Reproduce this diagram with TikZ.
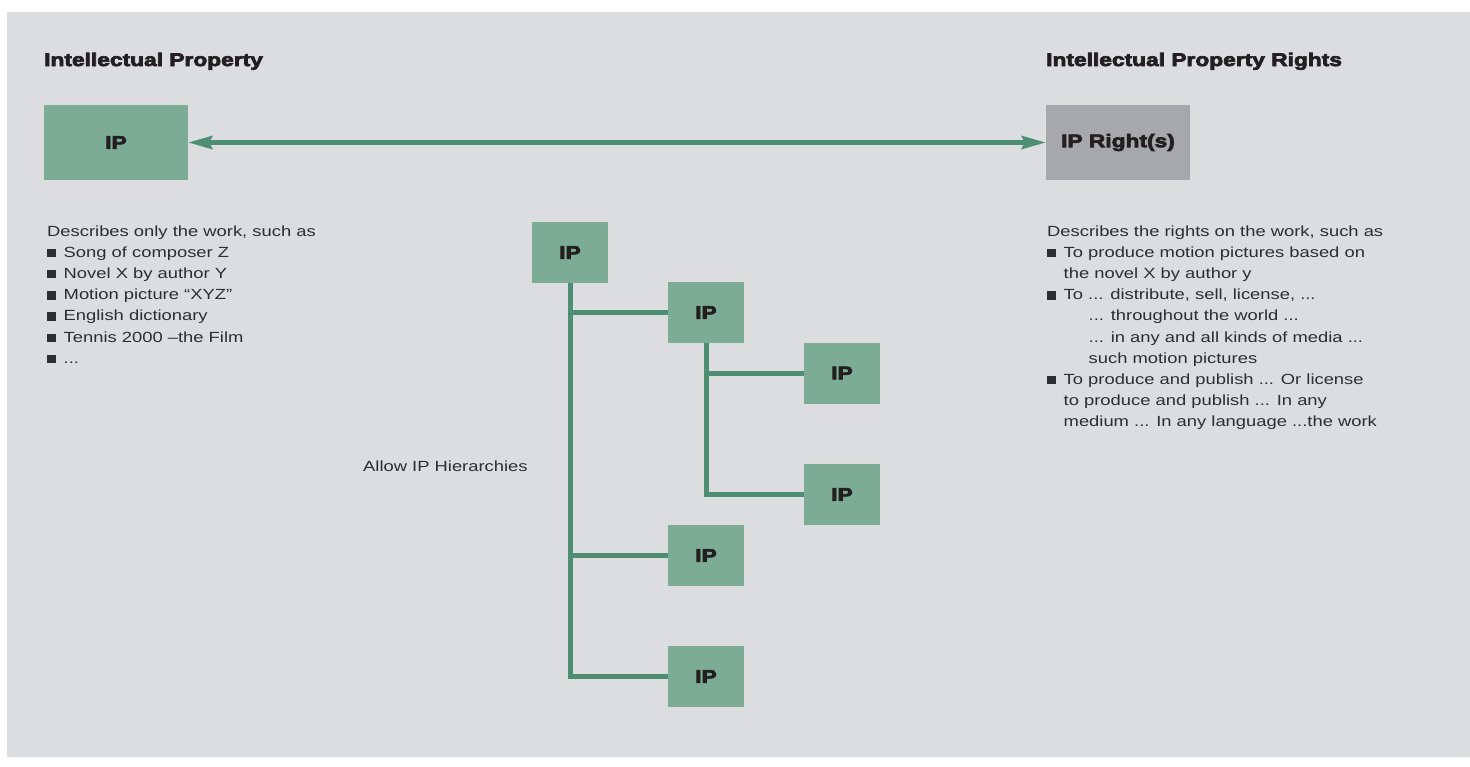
\documentclass[tikz,border=0pt]{standalone}
\usepackage{fontspec}
\setmainfont[FakeStretch=1.25]{Liberation Sans}
\newfontfamily\heavyfont[FakeStretch=1.25, BoldFeatures={FakeBold=4}]{Liberation Sans}
\usetikzlibrary{arrows.meta}

\definecolor{panel}{HTML}{DCDDDF}
\definecolor{boxgreen}{HTML}{7CAC96}
\definecolor{boxgray}{HTML}{A7A8AB}
\definecolor{linkgreen}{HTML}{4E8F74}
\definecolor{ink}{HTML}{231F20}
\definecolor{bodyink}{HTML}{2E2E2E}

% square list marker followed by the hanging indent
\newcommand{\sqbullet}{\makebox[16.5pt][l]{\rule{8.4pt}{8.4pt}}}

\begin{document}
\begin{tikzpicture}[x=1pt, y=-1pt,
  heavy/.style={font=\heavyfont\bfseries\fontsize{18.2}{20}\selectfont, text=ink, inner sep=0pt},
  body/.style={font=\fontsize{14.7}{21.2}\selectfont, text=bodyink, inner sep=0pt},
  bigbox/.style={heavy, minimum width=144pt, minimum height=75pt},
  ipbox/.style={heavy, fill=boxgreen, minimum width=76pt, minimum height=61pt},
  link/.style={draw=linkgreen, line width=4.5pt,
    {Stealth[length=24pt, width=13pt, inset=3pt]}-{Stealth[length=24pt, width=13pt, inset=3pt]}},
  branch/.style={draw=linkgreen, line width=5pt, line join=miter}]

\useasboundingbox (0,0) rectangle (1470,766);
\fill[white] (0,0) rectangle (1470,766);
\fill[panel] (7,12) rectangle (1470,757);

% headings
\node[heavy, anchor=base west] (hleft) at (44,66) {Intellectual Property};
\node[heavy, anchor=base west] (hright) at (1046,66) {Intellectual Property Rights};

% the property and its rights
\node[bigbox, fill=boxgreen] (ip) at (116,142.5) {IP};
\node[bigbox, fill=boxgray] (ipr) at (1118,142.5) {IP Right(s)};
\draw[link] (ip.east) -- (ipr.west);

% descriptions
\node[body, anchor=base west] (workdesc) at (47,236) {\parbox[t]{330pt}{%
Describes only the work, such as\\
\sqbullet Song of composer Z\\
\sqbullet Novel X by author Y\\
\sqbullet Motion picture “XYZ”\\
\sqbullet English dictionary\\
\sqbullet Tennis 2000 –the Film\\
\sqbullet ...}};

\node[body, anchor=base west] (rightsdesc) at (1047,236) {\parbox[t]{400pt}{%
Describes the rights on the work, such as\\
\sqbullet To produce motion pictures based on\\
\hspace*{16.5pt}the novel X by author y\\
\sqbullet To ... distribute, sell, license, ...\\
\hspace*{41.5pt}... throughout the world ...\\
\hspace*{41.5pt}... in any and all kinds of media ...\\
\hspace*{41.5pt}such motion pictures\\
\sqbullet To produce and publish ... Or license\\
\hspace*{16.5pt}to produce and publish ... In any\\
\hspace*{16.5pt}medium ... In any language ...the work}};

\node[body, anchor=base west] (hier) at (363,471) {Allow IP Hierarchies};

% hierarchy of IP items
\node[ipbox] (t1) at (570,252.5) {IP};
\node[ipbox] (t2) at (706,312.5) {IP};
\node[ipbox] (t3) at (842,373) {IP};
\node[ipbox] (t4) at (842,494.5) {IP};
\node[ipbox] (t5) at (706,555.5) {IP};
\node[ipbox] (t6) at (706,676.5) {IP};

\draw[branch] (t1.south) |- (t2.west);
\draw[branch] (t1.south) |- (t5.west);
\draw[branch] (t1.south) |- (t6.west);
\draw[branch] (t2.south) |- (t3.west);
\draw[branch] (t2.south) |- (t4.west);
\end{tikzpicture}
\end{document}
